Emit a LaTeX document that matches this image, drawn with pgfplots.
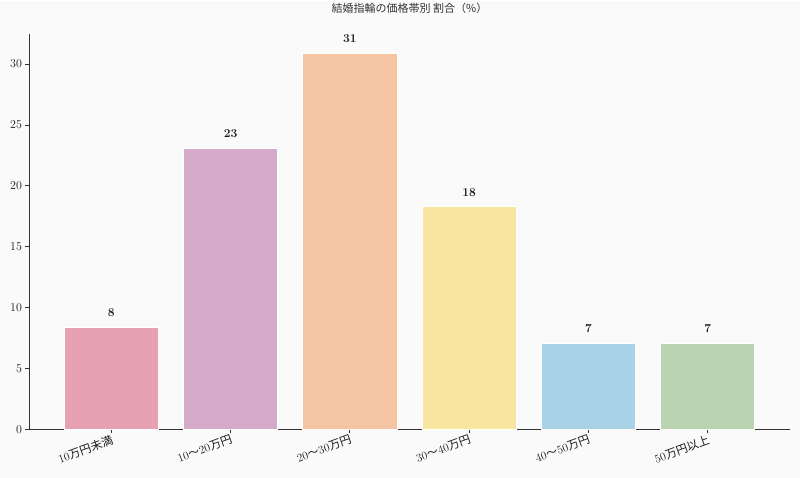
\documentclass[border=0pt]{standalone}
\usepackage{fontspec}
\usepackage{pgfplots}
\pgfplotsset{compat=1.18}
\newfontfamily\cjk{Noto Sans CJK JP}

\definecolor{bgc}{HTML}{FAFAFA}
\definecolor{spine}{HTML}{333333}
\definecolor{txt}{HTML}{1A1A1A}
\definecolor{c1}{HTML}{E8A0B3}
\definecolor{c2}{HTML}{D5A9C8}
\definecolor{c3}{HTML}{F5C4A2}
\definecolor{c4}{HTML}{F7E5A0}
\definecolor{c5}{HTML}{A9D1E8}
\definecolor{c6}{HTML}{BAD4B1}

\begin{document}
\begin{tikzpicture}[x=1pt,y=1pt]
  % background of the whole figure (800 x 477)
  \fill[bgc] (0,0) rectangle (800,477);
  \begin{axis}[
    at={(29pt,48pt)}, anchor=south west,
    scale only axis,
    width=761pt, height=396pt,
    xmin=-0.69, xmax=5.69,
    ymin=0, ymax=32.5,
    axis x line*=bottom,
    axis y line*=left,
    axis line style={spine, line width=0.9pt},
    tick style={spine, line width=0.8pt},
    tick align=outside,
    major tick length=3.5pt,
    ybar, bar width=0.79,
    xtick={0,1,2,3,4,5},
    xticklabels={
      10{\cjk 万円未満},
      10{\cjk ～}20{\cjk 万円},
      20{\cjk ～}30{\cjk 万円},
      30{\cjk ～}40{\cjk 万円},
      40{\cjk ～}50{\cjk 万円},
      50{\cjk 万円以上}},
    xticklabel style={rotate=20, anchor=north east, inner sep=1pt,
      font=\fontsize{11.5}{13}\selectfont, text=txt},
    ytick={0,5,10,15,20,25,30},
    yticklabel style={font=\fontsize{12}{14}\selectfont, text=txt},
    title={\cjk 結婚指輪の価格帯別 割合（\%）},
    title style={at={(0.5,1)}, anchor=center, yshift=19pt,
      font=\fontsize{11}{13}\selectfont, text=spine},
    nodes near coords={\pgfmathprintnumber[fixed,precision=0]{\pgfplotspointmeta}},
    nodes near coords style={font=\fontsize{12}{14}\selectfont\boldmath, text=txt,
      anchor=south, inner sep=0pt, yshift=10pt},
    every axis plot/.append style={bar shift=0pt, draw=white, line width=0.8pt},
  ]
    \addplot[fill=c1] coordinates {(0, 8.4)};
    \addplot[fill=c2] coordinates {(1,23.1)};
    \addplot[fill=c3] coordinates {(2,30.9)};
    \addplot[fill=c4] coordinates {(3,18.3)};
    \addplot[fill=c5] coordinates {(4, 7.1)};
    \addplot[fill=c6] coordinates {(5, 7.1)};
  \end{axis}
\end{tikzpicture}
\end{document}
